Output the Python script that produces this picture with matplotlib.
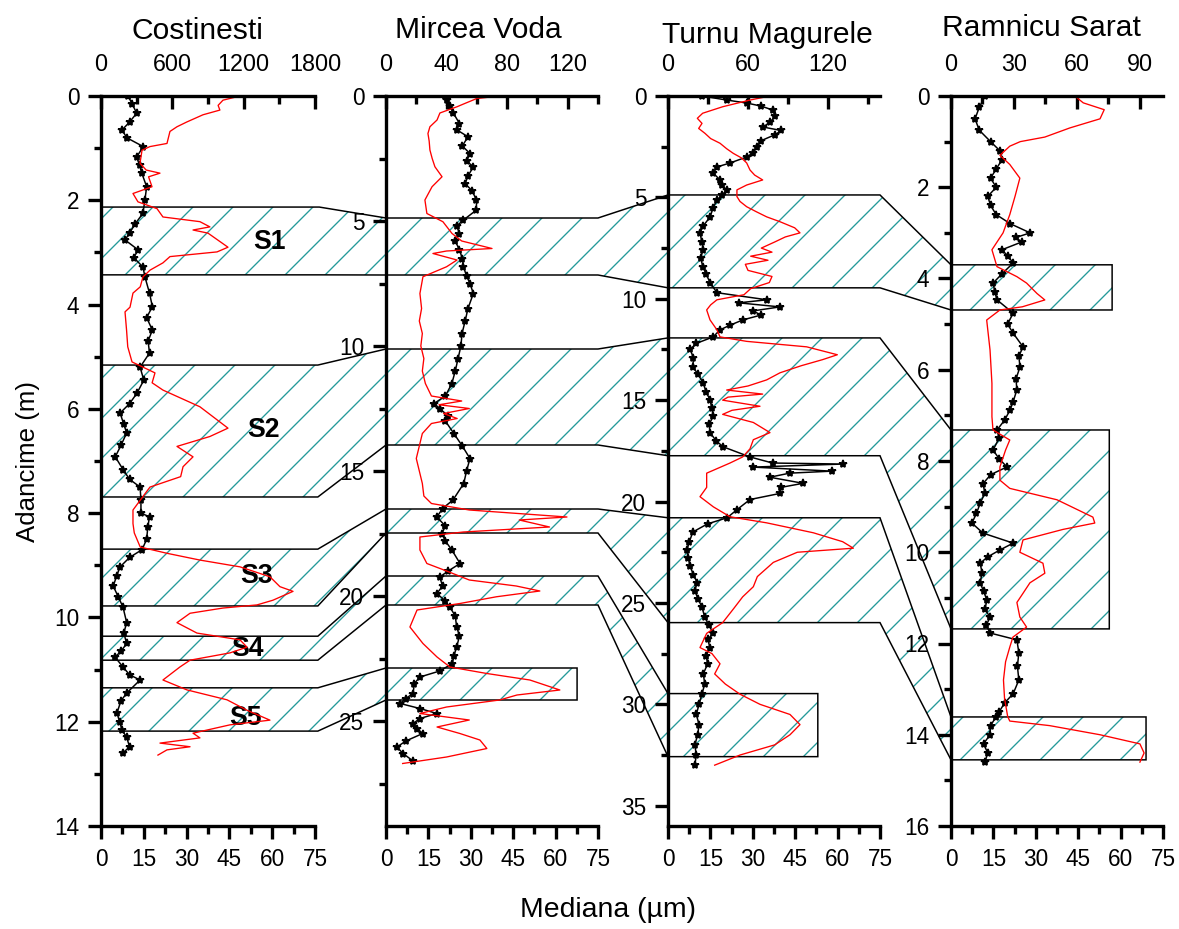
import numpy as np
import matplotlib.pyplot as plt
from matplotlib.patches import Polygon
from matplotlib.ticker import MultipleLocator

plt.rcParams['font.family'] = ['Liberation Sans', 'DejaVu Sans']
plt.rcParams['hatch.linewidth'] = 0.8

sites = ['Costinesti', 'Mircea Voda', 'Turnu Magurele', 'Ramnicu Sarat']

# median grain size (um) vs depth (m)
cost_median = [
    (0, 9.5), (0.16, 11), (0.33, 12.5), (0.5, 10), (0.65, 7.4), (0.8, 9), (0.97, 14.8),
    (1.17, 12.5), (1.33, 13.5), (1.48, 14.3), (1.74, 16), (1.99, 15.4), (2.25, 14.7),
    (2.45, 12), (2.63, 10), (2.76, 8.4), (2.95, 13), (3.1, 11.5), (3.28, 14.7), (3.47, 15.4),
    (3.78, 17), (4.04, 18), (4.25, 16), (4.49, 18), (4.7, 16.5), (4.93, 17), (5.2, 13.7),
    (5.45, 15), (5.7, 12.6), (5.9, 10), (6.08, 6.7), (6.3, 8), (6.46, 9), (6.7, 7),
    (6.92, 5), (7.17, 7.8), (7.35, 10), (7.5, 13.7), (7.75, 14), (8.0, 14), (8.07, 17),
    (8.27, 16.4), (8.5, 16), (8.7, 14.4), (8.85, 10), (9.03, 6.7), (9.2, 5.5), (9.4, 4.3),
    (9.6, 6), (9.8, 7.7), (10.1, 9), (10.3, 8), (10.5, 9), (10.65, 7), (10.76, 4.9),
    (10.95, 7.7), (11.1, 10), (11.2, 13.7), (11.45, 9), (11.6, 7), (11.83, 5.6), (12.0, 6.5),
    (12.16, 7.4), (12.3, 9), (12.48, 10), (12.6, 7.7),
]
mircea_median = [
    (0, 21), (0.16, 21.6), (0.4, 22.5), (0.68, 23.8), (1.1, 26), (1.35, 25), (1.63, 29),
    (2.0, 27), (2.3, 29.7), (2.6, 28.5), (2.83, 30.9), (3.2, 29), (3.5, 28), (3.8, 30.5),
    (4.16, 32), (4.56, 32), (4.96, 27.4), (5.2, 25), (5.5, 26), (5.8, 24.5), (6.16, 26),
    (6.5, 27), (6.83, 27.4), (7.2, 28.5), (7.5, 29.7), (7.9, 30.9), (8.5, 29), (9.0, 28),
    (9.5, 26.9), (10.0, 26.5), (10.5, 25.5), (11.0, 24.5), (11.5, 23.3), (12.0, 21),
    (12.3, 17), (12.5, 19), (12.8, 22), (13.0, 21), (13.5, 24), (14.0, 27), (14.5, 29.7),
    (15.0, 28.5), (15.5, 27.5), (16.16, 23.7), (16.5, 20), (16.84, 18), (17.2, 21),
    (17.5, 19.8), (17.8, 21), (18.16, 23.3), (18.7, 26.2), (19.0, 22), (19.24, 19),
    (19.6, 20), (19.9, 18), (20.2, 21), (20.44, 22.6), (20.8, 24.5), (21.24, 25), (21.6, 26),
    (22.04, 25), (22.4, 24), (22.7, 23.5), (23.0, 19), (23.24, 12), (23.5, 10), (23.9, 9.6),
    (24.1, 7), (24.3, 5), (24.5, 12), (24.7, 18), (24.9, 12), (25.1, 9.6), (25.3, 11),
    (25.5, 13), (25.8, 7), (26.04, 3.9), (26.3, 6), (26.6, 9.6),
]
turnu_median = [
    (0, 12), (0.2, 20.8), (0.35, 28), (0.5, 33), (0.69, 37), (1.0, 38), (1.3, 36),
    (1.53, 33.6), (1.7, 40), (1.9, 38), (2.2, 33), (2.5, 31.5), (2.8, 30), (3.0, 28),
    (3.3, 22), (3.5, 17.3), (3.8, 16), (4.14, 18.4), (4.4, 19), (4.63, 20.8), (4.9, 19),
    (5.13, 17.3), (5.5, 16), (5.96, 14.9), (6.4, 12.5), (6.75, 11.3), (7.2, 12), (7.6, 12.4),
    (8.0, 11.5), (8.43, 12.4), (8.8, 13.5), (9.2, 14.9), (9.7, 17.3), (10.05, 35),
    (10.2, 25), (10.4, 39.6), (10.6, 30), (10.8, 33), (11.04, 26.5), (11.3, 22),
    (11.53, 18.4), (11.88, 16), (12.2, 10), (12.5, 7.8), (12.9, 9), (13.36, 8.8),
    (13.7, 10.5), (14.14, 12.4), (14.6, 13.5), (15.0, 14.9), (15.4, 15.5), (15.8, 16),
    (16.2, 14.5), (16.6, 14.9), (17.0, 17), (17.3, 19.5), (17.8, 29), (18.1, 37),
    (18.15, 62), (18.3, 30), (18.5, 58), (18.6, 43), (18.8, 36), (19.1, 47.8), (19.3, 40),
    (19.6, 39.6), (19.9, 29), (20.4, 24.4), (20.8, 20.9), (21.1, 14), (21.5, 8.8),
    (22.0, 7.5), (22.4, 6.7), (22.8, 7.2), (23.2, 7.8), (23.6, 9), (24.0, 10.3), (24.4, 9.5),
    (24.8, 10.6), (25.2, 12), (25.7, 13), (26.1, 14.5), (26.5, 16), (26.8, 14), (27.2, 14.9),
    (27.6, 13.5), (28.0, 14), (28.5, 12.5), (29.0, 13), (29.5, 12), (30.0, 11), (30.5, 10),
    (31.0, 11), (31.5, 10.5), (32.0, 9.5), (32.5, 10), (33.0, 9.5),
]
ramnicu_median = [
    (0, 12), (0.25, 10), (0.5, 8.5), (0.75, 10), (1.0, 14), (1.2, 17.3), (1.4, 18),
    (1.6, 16), (1.8, 14), (2.0, 16), (2.2, 13), (2.4, 14), (2.6, 16), (2.8, 21), (3.0, 28),
    (3.1, 23), (3.2, 25), (3.37, 18), (3.5, 20), (3.66, 22), (3.9, 18), (4.1, 14.9),
    (4.3, 15.5), (4.47, 16.3), (4.76, 22), (5.0, 20), (5.2, 22), (5.5, 25.5), (5.7, 24),
    (5.94, 24.4), (6.2, 23), (6.44, 23.3), (6.7, 22), (6.88, 20.9), (7.1, 19), (7.32, 16.3),
    (7.5, 17), (7.76, 14.9), (7.95, 17), (8.13, 19.8), (8.3, 14), (8.5, 11.3), (8.7, 12),
    (8.93, 10.3), (9.15, 9), (9.36, 7.4), (9.58, 11.3), (9.8, 22), (9.95, 17.3), (10.1, 13),
    (10.24, 10.3), (10.45, 11), (10.67, 10.3), (10.85, 11.5), (11.05, 12.7), (11.25, 12),
    (11.42, 13.8), (11.6, 12.5), (11.77, 13.8), (11.92, 23.3), (12.2, 24), (12.5, 23.5),
    (12.8, 24), (13.1, 22), (13.3, 19), (13.5, 17), (13.6, 16), (13.8, 14), (14.0, 13.8),
    (14.2, 11.5), (14.4, 13), (14.6, 12),
]

# magnetic susceptibility (top axis) vs depth (m)
cost_susc = [
    (0, 1169), (0.08, 1026), (0.18, 985), (0.27, 1000), (0.36, 858), (0.5, 720), (0.59, 639),
    (0.68, 580), (0.91, 555), (0.97, 412), (1.04, 345), (1.29, 328), (1.42, 380), (1.48, 496),
    (1.55, 400), (1.74, 429), (1.87, 269), (2.03, 311), (2.16, 471), (2.32, 521), (2.41, 832),
    (2.51, 916), (2.57, 774), (2.63, 900), (2.9, 1068), (2.99, 976), (3.08, 580), (3.2, 521),
    (3.34, 412), (3.47, 353), (3.66, 330), (3.78, 269), (4.05, 244), (4.14, 202), (4.49, 215),
    (4.81, 225), (5.1, 261), (5.31, 454), (5.5, 430), (5.64, 521), (5.96, 832), (6.21, 976),
    (6.37, 1068), (6.53, 916), (6.72, 639), (6.92, 774), (7.11, 690), (7.3, 670), (7.5, 412),
    (7.69, 350), (7.94, 269), (8.2, 269), (8.38, 280), (8.65, 330), (8.77, 555), (8.9, 832),
    (9.03, 1169), (9.22, 1421), (9.41, 1505), (9.5, 1615), (9.67, 1446), (9.76, 1312),
    (9.82, 1026), (9.92, 749), (10.1, 639), (10.3, 807), (10.43, 1169), (10.57, 1228),
    (10.68, 1085), (10.82, 749), (10.95, 664), (11.2, 521), (11.39, 723), (11.58, 1060),
    (11.78, 1228), (11.97, 1421), (12.06, 1085), (12.16, 891), (12.22, 774), (12.31, 832),
    (12.41, 496), (12.48, 749), (12.54, 555), (12.64, 479),
]
mircea_susc = [
    (0, 78.5), (0.03, 70.6), (0.1, 60), (0.3, 52), (0.43, 46.9), (0.68, 35.6), (0.96, 33.7),
    (1.23, 29), (1.5, 27.7), (1.8, 28.5), (2.16, 29), (2.5, 30.5), (2.83, 32.3), (3.23, 37),
    (3.63, 30.4), (3.9, 28), (4.16, 25.7), (4.7, 27), (5.03, 37.6), (5.5, 43.6), (5.8, 50),
    (6.1, 70), (6.2, 40), (6.3, 31), (6.56, 46.9), (6.83, 40), (7.23, 24.4), (7.9, 22.4),
    (8.5, 23.5), (9.0, 22), (9.5, 24), (10.0, 23), (10.5, 25), (11.0, 24), (11.5, 26),
    (12.0, 30), (12.2, 50), (12.35, 35), (12.5, 55), (12.7, 38), (12.9, 47), (13.1, 30),
    (13.5, 24), (14.0, 22), (14.5, 20), (15.0, 22), (15.5, 24), (16.0, 25), (16.3, 30),
    (16.56, 55), (16.84, 119.5), (16.96, 88), (17.24, 108), (17.44, 51), (17.64, 22.4),
    (18.16, 22.4), (18.7, 27), (19.0, 40), (19.36, 55), (19.6, 86), (19.8, 101.6),
    (20.03, 73), (20.3, 48.8), (20.56, 20.5), (21.24, 15.8), (21.9, 24.4), (22.44, 33.7),
    (22.84, 42.2), (23.1, 66.6), (23.36, 95), (23.76, 114.8), (23.96, 86.5), (24.16, 75),
    (24.44, 40), (24.7, 22.4), (24.96, 55), (25.24, 33.7), (25.5, 48.8), (25.76, 62),
    (26.1, 66.6), (26.44, 40), (26.7, 11),
]
turnu_susc = [
    (0, 76.5), (0.2, 61.5), (0.53, 41), (0.85, 26), (1.1, 22), (1.35, 25.5), (1.6, 23),
    (1.84, 27.7), (2.1, 32), (2.33, 39), (2.6, 44), (2.83, 49), (3.05, 55), (3.3, 59),
    (3.65, 61.5), (3.9, 65), (4.14, 71), (4.39, 59), (4.63, 51.7), (4.96, 51.7), (5.2, 54),
    (5.46, 59), (5.7, 66), (5.96, 74), (6.2, 84), (6.5, 95), (6.75, 99), (6.95, 88),
    (7.2, 80), (7.5, 70), (7.7, 78), (7.9, 62), (8.1, 75), (8.3, 58), (8.6, 60), (8.9, 78),
    (9.2, 76), (9.5, 62), (9.8, 57), (10.05, 36.7), (10.3, 32), (10.55, 29), (11.04, 31.5),
    (11.53, 36.7), (11.88, 39), (12.1, 59), (12.37, 104), (12.76, 127), (13.0, 116),
    (13.3, 100), (13.65, 84), (14.0, 74), (14.3, 60), (14.5, 44), (14.7, 71), (14.85, 45),
    (15.0, 41), (15.3, 69), (15.5, 48), (15.7, 41), (16.1, 64), (16.6, 76.5), (16.95, 64),
    (17.4, 61.5), (17.8, 56), (18.1, 46.5), (18.6, 29), (19.3, 29), (19.76, 24),
    (20.26, 34), (20.75, 46.5), (21.05, 74), (21.54, 109), (21.98, 131), (22.3, 139),
    (22.5, 97), (23.0, 79), (23.7, 67), (24.2, 64), (24.7, 56), (25.3, 49), (25.97, 41),
    (26.5, 29), (27.2, 24), (27.5, 33), (28.0, 39), (28.5, 35), (29.0, 43), (29.5, 54),
    (30.0, 69), (30.5, 91.5), (31.0, 99), (31.5, 91.5), (32.0, 80), (32.5, 54), (33.0, 35),
]
ramnicu_susc = [
    (0, 59), (0.15, 63), (0.3, 73), (0.5, 71), (0.7, 56.6), (0.9, 44.7), (1.0, 33),
    (1.1, 28), (1.3, 23.3), (1.5, 28), (1.8, 32.8), (2.2, 30.5), (2.6, 28), (3.0, 24.8),
    (3.37, 19.5), (3.74, 21.9), (3.96, 31.4), (4.1, 36), (4.33, 41), (4.47, 44.7),
    (4.62, 34), (4.69, 23.3), (4.91, 17), (5.57, 18.6), (6.3, 19.5), (7.03, 19.5),
    (7.32, 20), (7.54, 28), (7.76, 26), (8.13, 23.3), (8.42, 23.3), (8.6, 28), (8.85, 50.5),
    (9.23, 67.6), (9.36, 68.5), (9.5, 53.3), (9.73, 34.3), (10.0, 32.8), (10.24, 43.8),
    (10.46, 44.7), (10.67, 37.6), (10.9, 34.3), (11.1, 31.4), (11.42, 32.8), (11.64, 36),
    (11.86, 29.5), (12.08, 28), (12.4, 26), (12.8, 25), (13.2, 25.5), (13.6, 27), (13.7, 28),
    (13.8, 47), (14.0, 71), (14.2, 90), (14.4, 92), (14.6, 90),
]

median_series = [cost_median, mircea_median, turnu_median, ramnicu_median]
susc_series = [cost_susc, mircea_susc, turnu_susc, ramnicu_susc]

depth_max = [14, 29.2, 36, 16]
depth_step = [2, 5, 5, 2]
susc_max = [1800, 140, 159, 101]
susc_step = [600, 40, 60, 30]

# correlated soil units: (panel, top depth, bottom depth, right end in um)
bands = {
    'S1': [(0, 2.13, 3.43, 76.5), (1, 4.88, 7.16, 75), (2, 4.88, 9.46, 75), (3, 3.70, 4.69, 57)],
    'S2': [(0, 5.16, 7.69, 76), (1, 10.12, 13.96, 75), (2, 11.93, 17.74, 75), (3, 7.32, 11.68, 56)],
    'S3': [(0, 8.69, 9.78, 76), (1, 16.52, 17.48, 75), (2, 20.8, 25.97, 75), (3, 13.61, 14.55, 69)],
    'S4': [(0, 10.36, 10.82, 76), (1, 19.2, 20.36, 75), (2, 29.47, 32.58, 53)],
    'S5': [(0, 11.35, 12.18, 76), (1, 22.88, 24.16, 67.6)],
}
band_labels = {'S1': (59, 2.8), 'S2': (57, 6.4), 'S3': (54.5, 9.2), 'S4': (51.5, 10.6), 'S5': (50.5, 11.93)}

W, H = 1179, 929
fig = plt.figure(figsize=(W / 120, H / 120), dpi=120)

lefts = [101, 386, 668, 951]
widths = [214, 212, 212, 212]
title_pos = [(197, 31), (478, 30), (767, 35), (1041, 28)]

axes = []
for i in range(4):
    ax = fig.add_axes([lefts[i] / W, (H - 826) / H, widths[i] / W, 730 / H])
    ax.set_facecolor('none')
    ax.set_xlim(0, 75)
    ax.set_ylim(depth_max[i], 0)
    ax.spines['right'].set_visible(False)
    ax.spines['top'].set_visible(False)
    for s in ['left', 'bottom']:
        ax.spines[s].set_linewidth(2)
    ax.xaxis.set_major_locator(MultipleLocator(15))
    ax.xaxis.set_minor_locator(MultipleLocator(7.5))
    ax.yaxis.set_major_locator(MultipleLocator(depth_step[i]))
    ax.yaxis.set_minor_locator(MultipleLocator(depth_step[i] / 2))
    ax.tick_params(which='both', direction='out', width=2, labelsize=13.5, top=False, right=False)
    ax.tick_params(which='major', length=8)
    ax.tick_params(which='minor', length=4.5)
    ax.tick_params(axis='y', pad=5)
    ax.tick_params(axis='x', pad=5)

    ax2 = ax.twiny()
    ax2.set_xlim(0, susc_max[i])
    for s in ['left', 'right', 'bottom']:
        ax2.spines[s].set_visible(False)
    ax2.spines['top'].set_linewidth(2)
    ax2.xaxis.set_major_locator(MultipleLocator(susc_step[i]))
    ax2.xaxis.set_minor_locator(MultipleLocator(susc_step[i] / 2))
    ax2.tick_params(axis='x', which='both', direction='in', width=2, labelsize=14, pad=12)
    ax2.tick_params(axis='x', which='major', length=8)
    ax2.tick_params(axis='x', which='minor', length=4.5)

    sd, sv = np.array(susc_series[i]).T
    ax2.plot(sv, sd, color='red', lw=0.8, zorder=2)
    md, mv = np.array(median_series[i]).T
    ax.plot(mv, md, color='black', lw=0.9, marker='*', ms=5, zorder=3)

    tx, ty = title_pos[i]
    fig.text(tx / W, 1 - ty / H, sites[i], ha='center', va='center', fontsize=18)
    axes.append(ax)

# shaded soil units linking the four profiles
to_fig = fig.transFigure.inverted()
for name, chain in bands.items():
    top_pts, bot_pts = [], []
    for p, top, bot, xend in chain:
        tr = axes[p].transData
        top_pts += [tr.transform((0, top)), tr.transform((xend, top))]
        bot_pts += [tr.transform((0, bot)), tr.transform((xend, bot))]
    verts = to_fig.transform(np.array(top_pts + bot_pts[::-1]))
    fig.patches.append(Polygon(verts, closed=True, transform=fig.transFigure, facecolor='none',
                               edgecolor='#249a9a', hatch='/', lw=0, zorder=-2))
    fig.patches.append(Polygon(verts, closed=True, transform=fig.transFigure, fill=False,
                               edgecolor='black', lw=0.9, zorder=-1))
    lx, ly = band_labels[name]
    axes[0].text(lx, ly, name, ha='center', va='center', fontsize=16, fontweight='bold', zorder=4)

fig.text(28 / W, 1 - 462 / H, 'Adancime (m)', rotation=90, ha='center', va='center', fontsize=15.5)
fig.text(608 / W, 1 - 910 / H, 'Mediana (µm)', ha='center', va='center', fontsize=17)

fig.savefig('out.png', dpi=120)
